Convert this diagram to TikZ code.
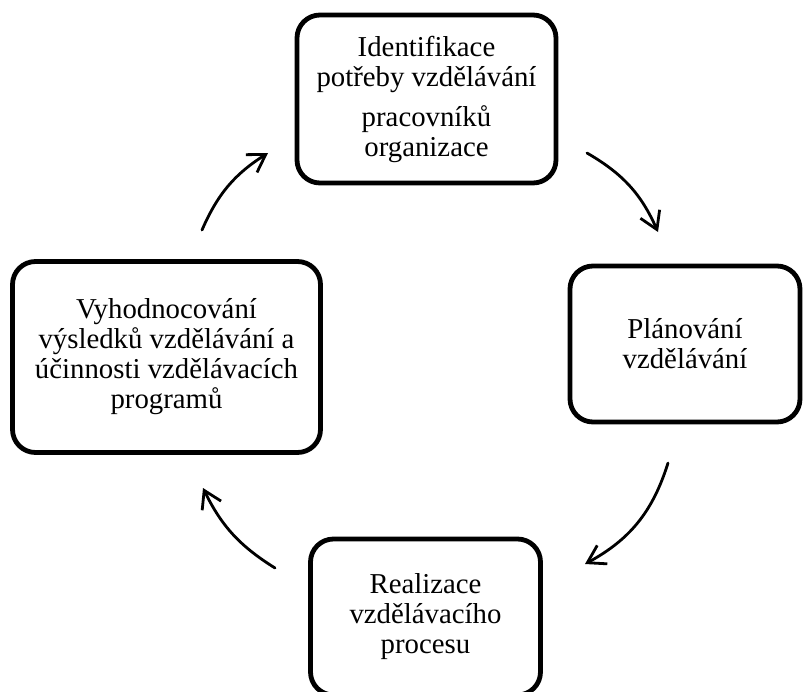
\documentclass[tikz,border=0pt]{standalone}
\usepackage{fontspec}
\setmainfont{Liberation Serif}
\usetikzlibrary{arrows.meta}
\begin{document}
\begin{tikzpicture}[x=1pt,y=-1pt,
  stagebox/.style={draw=black, line width=4.8pt, rounded corners=23pt,
    inner sep=0pt, align=center, fill=white,
    font=\fontsize{28.8}{30}\selectfont},
  cyclearrow/.style={line width=2.8pt, line cap=round,
    -{Straight Barb[length=17pt,width=21pt,line width=2.8pt]}}
]
\useasboundingbox[fill=white] (0,0) rectangle (803,691);

\node[stagebox, minimum width=259pt, minimum height=168pt] (ident) at (426.5,99)
  {Identifikace\\potřeby vzdělávání\\[10pt]pracovníků\\organizace};
\node[stagebox, minimum width=230pt, minimum height=156pt] (plan) at (685,344)
  {Plánování\\vzdělávání};
\node[stagebox, minimum width=230pt, minimum height=156pt] (real) at (425.5,617)
  {Realizace\\vzdělávacího\\procesu};
\node[stagebox, minimum width=308pt, minimum height=191pt] (eval) at (166.5,357)
  {Vyhodnocování\\výsledků vzdělávání a\\účinnosti vzdělávacích\\programů};

\coordinate (a1s) at (587,153);
\coordinate (a1e) at (658,232);
\coordinate (a2s) at (668,463);
\coordinate (a2e) at (585,564);
\coordinate (a3s) at (275,568);
\coordinate (a3e) at (203,488);
\coordinate (a4s) at (202,230);
\coordinate (a4e) at (268,153);

\draw[cyclearrow] (a1s) to[bend left=18] (a1e);
\draw[cyclearrow] (a2s) to[bend left=22] (a2e);
\draw[cyclearrow] (a3s) to[bend left=16] (a3e);
\draw[cyclearrow] (a4s) to[bend left=17] (a4e);
\end{tikzpicture}
\end{document}
